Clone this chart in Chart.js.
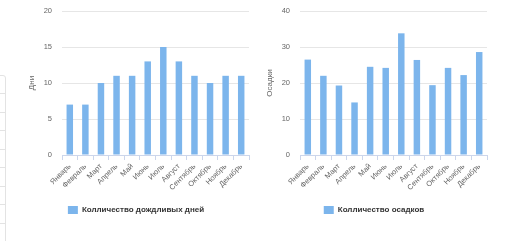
<!DOCTYPE html>
<html>
<head>
<meta charset="utf-8">
<script src="https://cdn.jsdelivr.net/npm/chart.js@4.4.1/dist/chart.umd.min.js"></script>
<style>
  html, body { margin: 0; padding: 0; background: #fff; }
  body { width: 530px; height: 241px; position: relative; overflow: hidden; }
  .box { position: absolute; top: 0; width: 232px; height: 241px; }
  #rainBox { left: 23px; }
  #precBox { left: 261px; }
  /* обрезанная таблица у левого края */
  .side {
    position: absolute; left: -4px; top: 75px; width: 8px; height: 180px;
    border: 1px solid #e3e3e3; border-radius: 3px;
    background: repeating-linear-gradient(to bottom, transparent 0, transparent 17.5px, #e3e3e3 17.5px, #e3e3e3 18.5px);
  }
</style>
</head>
<body>
<div class="side"></div>
<div class="box" id="rainBox"><canvas id="rainChart" width="232" height="241"></canvas></div>
<div class="box" id="precBox"><canvas id="precChart" width="232" height="241"></canvas></div>
<script>
const months = ["Январь", "Февраль", "Март", "Апрель", "Май", "Июнь",
  "Июль", "Август", "Сентябрь", "Октябрь", "Ноябрь", "Декабрь"];

// Колличество дождливых дней
const rainyDays = [7, 7, 10, 11, 11, 13, 15, 13, 11, 10, 11, 11];
// Колличество осадков
const precipitation = [26.5, 22, 19.3, 14.6, 24.5, 24.2, 33.8, 26.4, 19.4, 24.2, 22.2, 28.6];

const daysTicks = [0, 5, 10, 15, 20];
const precTicks = [0, 10, 20, 30, 40];

const FONT = "'Liberation Sans', Arial, sans-serif";
const BAR_COLOR = "#7cb5ec";

function makeChart(canvasId, seriesName, values, axisTitle, tickValues) {
  const ctx = document.getElementById(canvasId).getContext("2d");
  return new Chart(ctx, {
    type: "bar",
    data: {
      labels: months,
      datasets: [
        {
          label: seriesName,
          data: values,
          backgroundColor: BAR_COLOR,
          borderWidth: 0,
          categoryPercentage: 0.8,
          barPercentage: 0.52,
        },
      ],
    },
    options: {
      responsive: false,
      animation: false,
      devicePixelRatio: 1,
      layout: { padding: { top: 11, right: 6, bottom: 17, left: 0 } },
      plugins: {
        legend: {
          position: "bottom",
          labels: {
            boxWidth: 10,
            boxHeight: 8,
            padding: 10,
            color: "#333333",
            font: { family: FONT, size: 8, weight: "bold" },
          },
        },
        tooltip: { enabled: false },
      },
      scales: {
        x: {
          grid: { drawOnChartArea: false, color: "#ccd6eb", tickLength: 5, offset: true },
          border: { color: "#ccd6eb" },
          ticks: {
            color: "#666666",
            font: { family: FONT, size: 7.5 },
            minRotation: 45,
            maxRotation: 45,
            autoSkip: false,
            padding: 2,
          },
          afterFit: (scale) => { scale.height = 41; },
        },
        y: {
          min: tickValues[0],
          max: tickValues[tickValues.length - 1],
          ticks: {
            stepSize: tickValues[1] - tickValues[0],
            color: "#666666",
            padding: 10,
            font: { family: FONT, size: 7.5 },
          },
          grid: { color: "#e6e6e6", drawTicks: false },
          border: { display: false },
          title: {
            display: true,
            text: axisTitle,
            color: "#666666",
            font: { family: FONT, size: 8 },
            padding: { top: 4, bottom: 0 },
          },
          afterFit: (scale) => {
            scale.width = 39;
            // отступ подписей не должен сдвигать верх графика
            scale.paddingTop = 0;
            scale.paddingBottom = 0;
          },
        },
      },
    },
  });
}

makeChart("rainChart", "Колличество дождливых дней", rainyDays, "Дни", daysTicks);
makeChart("precChart", "Колличество осадков", precipitation, "Осадки", precTicks);
</script>
</body>
</html>
